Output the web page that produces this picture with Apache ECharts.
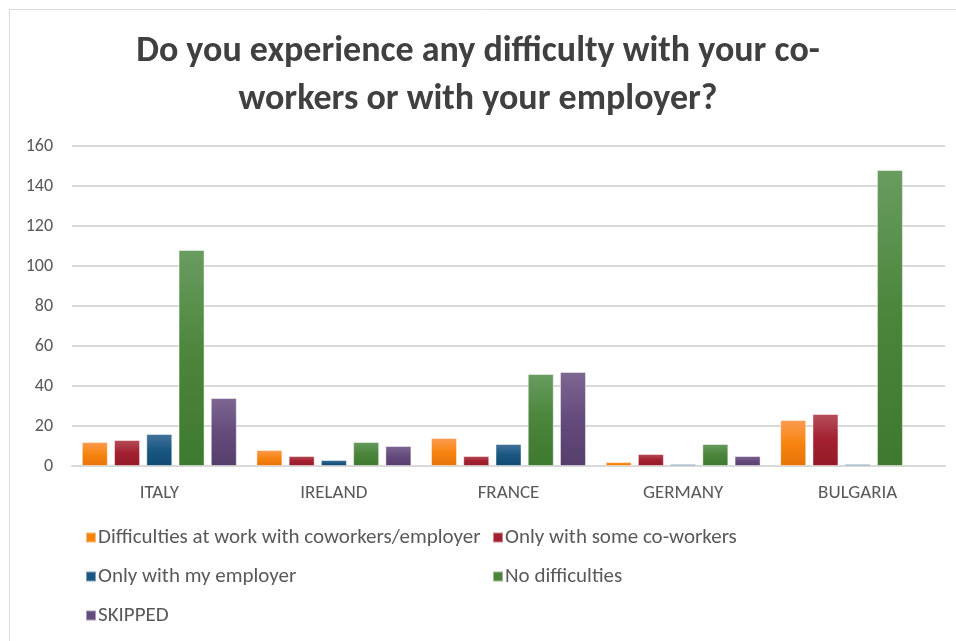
<!DOCTYPE html>
<html>
<head>
<meta charset="utf-8">
<script src="https://cdn.jsdelivr.net/npm/echarts@6/dist/echarts.min.js"></script>
<style>
  html, body { margin: 0; padding: 0; background: #ffffff; }
  #chart { width: 956px; height: 641px; }
</style>
</head>
<body>
<div id="chart"></div>
<script>
// Survey answers per country
const countries = ['ITALY', 'IRELAND', 'FRANCE', 'GERMANY', 'BULGARIA'];
const seriesNames = [
  'Difficulties at work with coworkers/employer',
  'Only with some co-workers',
  'Only with my employer',
  'No difficulties',
  'SKIPPED'
];
const difficultiesAtWork = [12, 8, 14, 2, 23];
const someCoworkers = [13, 5, 5, 6, 26];
const onlyEmployer = [16, 3, 11, 1, 1];
const noDifficulties = [108, 12, 46, 11, 148];
const skipped = [34, 10, 47, 5, 0];
const yTicks = [0, 20, 40, 60, 80, 100, 120, 140, 160];

const seriesValues = [difficultiesAtWork, someCoworkers, onlyEmployer, noDifficulties, skipped];

// top / middle / bottom shades for each series
const shades = [
  ['#fb9c52', '#f7840f', '#e67309'],
  ['#b54f5a', '#a32030', '#941a29'],
  ['#44739c', '#1a5781', '#0f4a73'],
  ['#699c60', '#4a853a', '#3e7930'],
  ['#7e6792', '#644b7d', '#563e6c']
];

const FONT = "Carlito, Lato, 'Open Sans', sans-serif";

const chart = echarts.init(document.getElementById('chart'), null, { renderer: 'canvas' });

const series = seriesValues.map((vals, i) => ({
  name: seriesNames[i],
  type: 'bar',
  // zero-height bars get no outline
  data: vals.map(v => (v === 0 ? { value: 0, itemStyle: { borderWidth: 0 } } : v)),
  barWidth: 26,
  barGap: '24%',
  itemStyle: {
    color: new echarts.graphic.LinearGradient(0, 0, 0, 1, [
      { offset: 0, color: shades[i][0] },
      { offset: 0.5, color: shades[i][1] },
      { offset: 1, color: shades[i][2] }
    ]),
    borderColor: 'rgba(255,255,255,0.45)',
    borderWidth: 1
  },
  emphasis: { disabled: true }
}));

// legend laid out in two columns
const legendSpots = [
  { left: 80, top: 522 },
  { left: 487, top: 522 },
  { left: 80, top: 561 },
  { left: 487, top: 561 },
  { left: 80, top: 600 }
];

const legends = seriesNames.map((name, i) => ({
  data: [{ name: name, itemStyle: { color: shades[i][1] } }],
  left: legendSpots[i].left,
  top: legendSpots[i].top,
  icon: 'rect',
  itemWidth: 10,
  itemHeight: 10,
  selectedMode: false,
  textStyle: { color: '#595959', fontSize: 21, fontFamily: FONT, padding: [0, 0, 0, -3] }
}));

chart.setOption({
  backgroundColor: '#ffffff',
  animation: false,
  title: {
    text: 'Do you experience any difficulty with your co-\nworkers or with your employer?',
    left: 'center',
    top: 23,
    textStyle: {
      color: '#404040',
      fontSize: 36,
      fontWeight: 'bold',
      fontFamily: FONT,
      lineHeight: 48
    }
  },
  graphic: [{
    type: 'rect',
    shape: { x: 9.5, y: 9.5, width: 960, height: 640 },
    style: { fill: 'none', stroke: '#d9d9d9', lineWidth: 1 },
    silent: true,
    z: -1
  }],
  legend: legends,
  grid: { left: 72, right: 11, top: 146, bottom: 175 },
  xAxis: {
    type: 'category',
    data: countries,
    axisLine: { show: true, lineStyle: { color: '#d9d9d9', width: 2 } },
    axisTick: { show: false },
    axisLabel: { color: '#595959', fontSize: 19, fontFamily: FONT, margin: 18 }
  },
  yAxis: {
    type: 'value',
    min: yTicks[0],
    max: yTicks[yTicks.length - 1],
    interval: yTicks[1] - yTicks[0],
    axisLine: { show: false },
    axisTick: { show: false },
    splitLine: { lineStyle: { color: '#d9d9d9', width: 2 } },
    axisLabel: { color: '#595959', fontSize: 18, fontFamily: FONT, margin: 19 }
  },
  series: series
});
</script>
</body>
</html>
